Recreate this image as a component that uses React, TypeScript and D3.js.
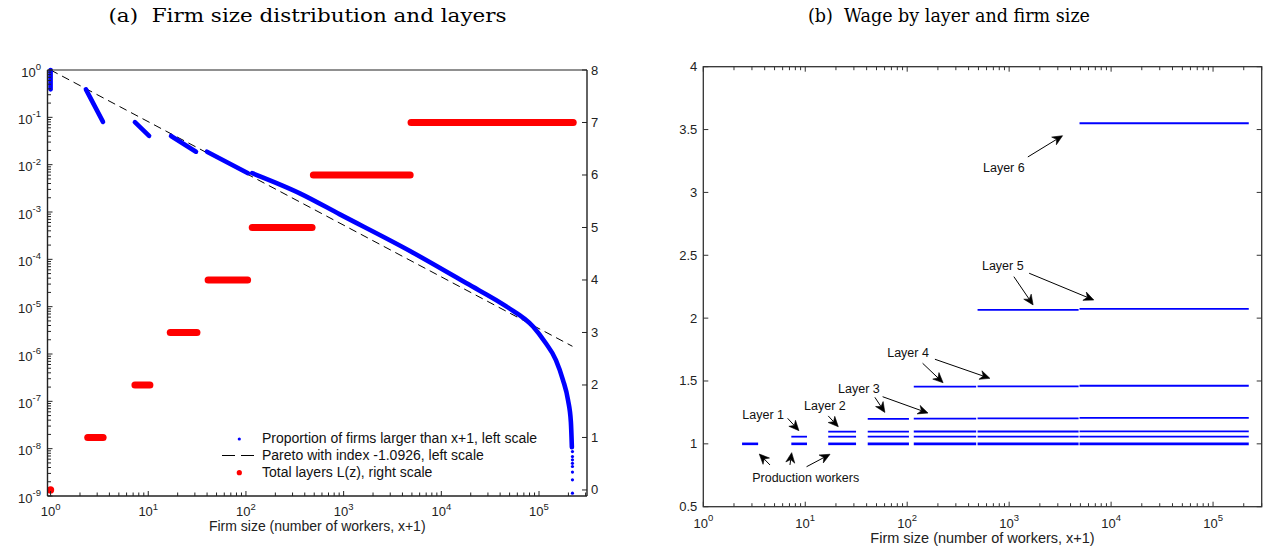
import React from 'react';
import * as d3 from 'd3';

// Panel (a): firm size distribution.
// Each segment is a run of plotted points (firm size x+1, share of firms larger).
const firmShareSegments: [number, number][][] = [
  [[1, 1], [1, 0.39]],
  [[2.3, 0.39], [3.44, 0.08]],
  [[7.3, 0.079], [10.2, 0.0405]],
  [[17.1, 0.0403], [30.8, 0.0188]],
  [[39.9, 0.0188], [105, 0.0066]],
  [
    [115.6, 0.0066], [356, 0.00248], [916, 8.9e-4],
    [4775, 1.5e-4], [18150, 3.11e-5], [46670, 9.98e-6], [87300, 3.77e-6],
    [115000, 1.79e-6], [149000, 7.46e-7], [176000, 2.82e-7], [198000, 1.07e-7],
    [212000, 3.66e-8], [217000, 1.08e-8],
  ],
];
// the sparse dots at the very end of the distribution
const tailSize = 220000;
const tailShares = [8.7e-9, 6.8e-9, 5.8e-9, 4.9e-9, 4.2e-9, 3.2e-9, 2.2e-9, 1.15e-9];

const paretoIndex = -1.0926;
const paretoSizeRange: [number, number] = [1, 220000];

// number of layers L(z) and the firm sizes where it holds
const layerCounts = [0, 1, 2, 3, 4, 5, 6, 7];
const layerSizeRanges: [number, number][] = [
  [1, 1], [2.4, 3.45], [7.3, 10.4], [16.8, 31.5], [41, 104], [116, 475], [490, 4800], [4900, 224000],
];

// Panel (b): wage of each layer, for firms with L layers (index = L)
const wageByLayer: number[][] = [
  [],
  [1],
  [1, 1.057],
  [1, 1.057, 1.097],
  [1, 1.057, 1.097, 1.198],
  [1, 1.057, 1.098, 1.2, 1.455],
  [1, 1.057, 1.098, 1.203, 1.457, 2.065],
  [1, 1.057, 1.099, 1.207, 1.462, 2.073, 3.55],
];

// annotations in data units: label centre, then arrows [from, to]
type Pt = [number, number];
const annotations: { label: string; at: Pt; arrows: [Pt, Pt][] }[] = [
  { label: 'Layer 6', at: [887, 3.197], arrows: [[[1525, 3.282], [3340, 3.451]]] },
  { label: 'Layer 5', at: [867, 2.415], arrows: [[[1112, 2.33], [1718, 2.105]], [[1571, 2.357], [6768, 2.144]]] },
  { label: 'Layer 4', at: [102, 1.725], arrows: [[[141.6, 1.641], [225, 1.486]], [[187, 1.673], [647, 1.521]]] },
  { label: 'Layer 3', at: [33.6, 1.442], arrows: [[[48.2, 1.37], [60.4, 1.25]], [[57.4, 1.375], [160, 1.245]]] },
  { label: 'Layer 2', at: [15.6, 1.301], arrows: [[[16.8, 1.222], [21.1, 1.136]]] },
  { label: 'Layer 1', at: [3.87, 1.229], arrows: [[[6.72, 1.203], [8.67, 1.105]]] },
  {
    label: 'Production workers', at: [10.1, 0.731],
    arrows: [[[4.51, 0.832], [3.54, 0.919]], [[7.08, 0.832], [7.36, 0.93]], [[10.3, 0.818], [17.5, 0.917]]],
  },
];

const legendLabels = [
  'Proportion of firms larger than x+1, left scale',
  'Pareto with index -1.0926, left scale',
  'Total layers L(z), right scale',
];

const sans = 'Liberation Sans, Arial, Helvetica, sans-serif';
const serif = 'DejaVu Serif, Liberation Serif, serif';
const BLUE = '#0000ff';
const RED = '#ff0000';
const AXIS = '#222';
const TICK_FS = 13;

const LB = { x0: 47.5, x1: 587, y0: 70, y1: 496 };
const RB = { x0: 703.3, x1: 1261.7, y0: 66.7, y1: 506.7 };

const isDecade = (t: number) => Math.abs(Math.log10(t) - Math.round(Math.log10(t))) < 1e-9;

function Pow10({ t }: { t: number }) {
  return (
    <>
      10<tspan dy={-6.5} fontSize={9.5}>{Math.round(Math.log10(t))}</tspan>
    </>
  );
}

function Arrow({ from, to }: { from: Pt; to: Pt }) {
  const dx = to[0] - from[0], dy = to[1] - from[1];
  const len = Math.hypot(dx, dy);
  const ux = dx / len, uy = dy / len;
  const nx = -uy, ny = ux;
  const L = 10, Wd = 4.5, notch = 3;
  const bx = to[0] - ux * L, by = to[1] - uy * L;
  const mx = to[0] - ux * (L - notch), my = to[1] - uy * (L - notch);
  const head = `M${to[0]},${to[1]}L${bx + nx * Wd},${by + ny * Wd}L${mx},${my}L${bx - nx * Wd},${by - ny * Wd}Z`;
  return (
    <g>
      <line x1={from[0]} y1={from[1]} x2={mx} y2={my} stroke="#000" strokeWidth={1} />
      <path d={head} fill="#000" stroke="#000" strokeWidth={0.6} strokeLinejoin="miter" />
    </g>
  );
}

export default function App() {
  const xL = d3.scaleLog().domain([0.93, 3.1e5]).range([LB.x0, LB.x1]);
  const yP = d3.scaleLog().domain([1e-9, 1]).range([LB.y1, LB.y0]);
  const yLay = d3.scaleLinear().domain([-0.115, 8]).range([LB.y1, LB.y0]);
  const xR = d3.scaleLog().domain([1, 3e5]).range([RB.x0, RB.x1]);
  const yW = d3.scaleLinear().domain([0.5, 4]).range([RB.y1, RB.y0]);

  const shareLine = d3.line<Pt>().x((d) => xL(d[0])).y((d) => yP(d[1])).curve(d3.curveMonotoneX);
  const paretoLine = d3.line<number>().x((s) => xL(s)).y((s) => yP(Math.pow(s, paretoIndex)));

  const xLTicks = xL.ticks(40).filter((t) => t >= 0.93 && t <= 3.1e5);
  const yPTicks = yP.ticks(40);
  const xRTicks = xR.ticks(40);
  const yLayTicks = yLay.ticks(8);
  const yWTicks = yW.ticks(7);

  return (
    <div style={{ position: 'absolute', left: 0, top: 0 }}>
      <svg width={1264} height={548} style={{ display: 'block', background: '#fff' }}>
        {/* titles */}
        <text x={307.5} y={22} textAnchor="middle" fontFamily={serif} fontSize={19} textLength={398}
          lengthAdjust="spacingAndGlyphs" style={{ whiteSpace: 'pre' }} fill="#000">
          {'(a)  Firm size distribution and layers'}
        </text>
        <text x={949} y={22} textAnchor="middle" fontFamily={serif} fontSize={19} textLength={282}
          lengthAdjust="spacingAndGlyphs" style={{ whiteSpace: 'pre' }} fill="#000">
          {'(b)  Wage by layer and firm size'}
        </text>

        {/* ---------- panel (a) ---------- */}
        <g>
          <path d={paretoLine(paretoSizeRange) || ''} fill="none" stroke="#000" strokeWidth={1} strokeDasharray="8,5" />
          {layerCounts.map((L, i) => {
            const [a, b] = layerSizeRanges[i];
            return a === b ? (
              <circle key={L} cx={xL(a)} cy={yLay(L)} r={3.6} fill={RED} />
            ) : (
              <line key={L} x1={xL(a)} x2={xL(b)} y1={yLay(L)} y2={yLay(L)} stroke={RED} strokeWidth={7} strokeLinecap="round" />
            );
          })}
          {firmShareSegments.map((seg, i) => (
            <path key={i} d={shareLine(seg) || ''} fill="none" stroke={BLUE} strokeWidth={4.6}
              strokeLinecap="round" strokeLinejoin="round" />
          ))}
          {tailShares.map((p, i) => (
            <circle key={i} cx={xL(tailSize)} cy={yP(p)} r={1.6} fill={BLUE} />
          ))}

          {/* axes */}
          <line x1={LB.x0} x2={LB.x1} y1={LB.y0} y2={LB.y0} stroke={AXIS} strokeWidth={1.1} />
          <line x1={LB.x0} x2={LB.x1} y1={LB.y1} y2={LB.y1} stroke={AXIS} strokeWidth={1.4} />
          <line x1={LB.x0} x2={LB.x0} y1={LB.y0} y2={LB.y1} stroke={AXIS} strokeWidth={1.4} />
          <line x1={LB.x1} x2={LB.x1} y1={LB.y0} y2={LB.y1} stroke={AXIS} strokeWidth={1.4} />
          {xLTicks.map((t, i) => {
            const major = isDecade(t);
            return (
              <g key={i}>
                <line x1={xL(t)} x2={xL(t)} y1={LB.y1} y2={LB.y1 - (major ? 5 : 3.5)} stroke={AXIS} strokeWidth={1} />
                {major && (
                  <text x={xL(t)} y={LB.y1 + 20} textAnchor="middle" fontFamily={sans} fontSize={TICK_FS} fill="#222">
                    <Pow10 t={t} />
                  </text>
                )}
              </g>
            );
          })}
          {yPTicks.map((t, i) => {
            const major = isDecade(t);
            return (
              <g key={i}>
                <line x1={LB.x0} x2={LB.x0 + (major ? 5 : 3.5)} y1={yP(t)} y2={yP(t)} stroke={AXIS} strokeWidth={1} />
                {major && (
                  <text x={41} y={yP(t) + 6.5} textAnchor="end" fontFamily={sans} fontSize={TICK_FS} fill="#222">
                    <Pow10 t={t} />
                  </text>
                )}
              </g>
            );
          })}
          {yLayTicks.map((t) => (
            <g key={t}>
              <line x1={LB.x1} x2={LB.x1 - 5} y1={yLay(t)} y2={yLay(t)} stroke={AXIS} strokeWidth={1} />
              <text x={LB.x1 + 4} y={yLay(t) + 4.5} fontFamily={sans} fontSize={TICK_FS} fill="#222">{t}</text>
            </g>
          ))}
          <text x={(LB.x0 + LB.x1) / 2} y={531} textAnchor="middle" fontFamily={sans} fontSize={14} fill="#222">
            Firm size (number of workers, x+1)
          </text>

          {/* legend */}
          <g fontFamily={sans} fontSize={14} fill="#111">
            <circle cx={239.3} cy={439} r={1.6} fill={BLUE} />
            <text x={262} y={443}>{legendLabels[0]}</text>
            <line x1={222} x2={254} y1={455.5} y2={455.5} stroke="#000" strokeWidth={1} strokeDasharray="13,6" />
            <text x={262} y={460}>{legendLabels[1]}</text>
            <circle cx={239.3} cy={472.7} r={2.6} fill={RED} />
            <text x={262} y={477}>{legendLabels[2]}</text>
          </g>
        </g>

        {/* ---------- panel (b) ---------- */}
        <g>
          {wageByLayer.map((wages, L) =>
            wages.map((w, k) => (
              <line key={`${L}-${k}`} x1={xR(layerSizeRanges[L][0])} x2={xR(layerSizeRanges[L][1])}
                y1={yW(w)} y2={yW(w)} stroke={BLUE} strokeWidth={k === 0 ? 2.6 : 1.8} />
            ))
          )}

          <rect x={RB.x0} y={RB.y0} width={RB.x1 - RB.x0} height={RB.y1 - RB.y0} fill="none" stroke="#333" strokeWidth={1.3} />
          {xRTicks.map((t, i) => {
            const major = isDecade(t);
            const len = major ? 5 : 3.5;
            return (
              <g key={i}>
                <line x1={xR(t)} x2={xR(t)} y1={RB.y1} y2={RB.y1 - len} stroke="#333" strokeWidth={1} />
                <line x1={xR(t)} x2={xR(t)} y1={RB.y0} y2={RB.y0 + len} stroke="#333" strokeWidth={1} />
                {major && (
                  <text x={xR(t)} y={RB.y1 + 21} textAnchor="middle" fontFamily={sans} fontSize={TICK_FS} fill="#222">
                    <Pow10 t={t} />
                  </text>
                )}
              </g>
            );
          })}
          {yWTicks.map((t) => (
            <g key={t}>
              <line x1={RB.x0} x2={RB.x0 + 5} y1={yW(t)} y2={yW(t)} stroke="#333" strokeWidth={1} />
              <line x1={RB.x1} x2={RB.x1 - 5} y1={yW(t)} y2={yW(t)} stroke="#333" strokeWidth={1} />
              <text x={RB.x0 - 6} y={yW(t) + 4.5} textAnchor="end" fontFamily={sans} fontSize={TICK_FS} fill="#222">{String(t)}</text>
            </g>
          ))}
          <text x={(RB.x0 + RB.x1) / 2} y={543} textAnchor="middle" fontFamily={sans} fontSize={14.5} fill="#222">
            Firm size (number of workers, x+1)
          </text>

          {annotations.map((a) => (
            <g key={a.label}>
              <text x={xR(a.at[0])} y={yW(a.at[1]) + 4.3} textAnchor="middle" fontFamily={sans} fontSize={12.5} fill="#111">
                {a.label}
              </text>
              {a.arrows.map(([f, t], i) => (
                <Arrow key={i} from={[xR(f[0]), yW(f[1])]} to={[xR(t[0]), yW(t[1])]} />
              ))}
            </g>
          ))}
        </g>
      </svg>
    </div>
  );
}
